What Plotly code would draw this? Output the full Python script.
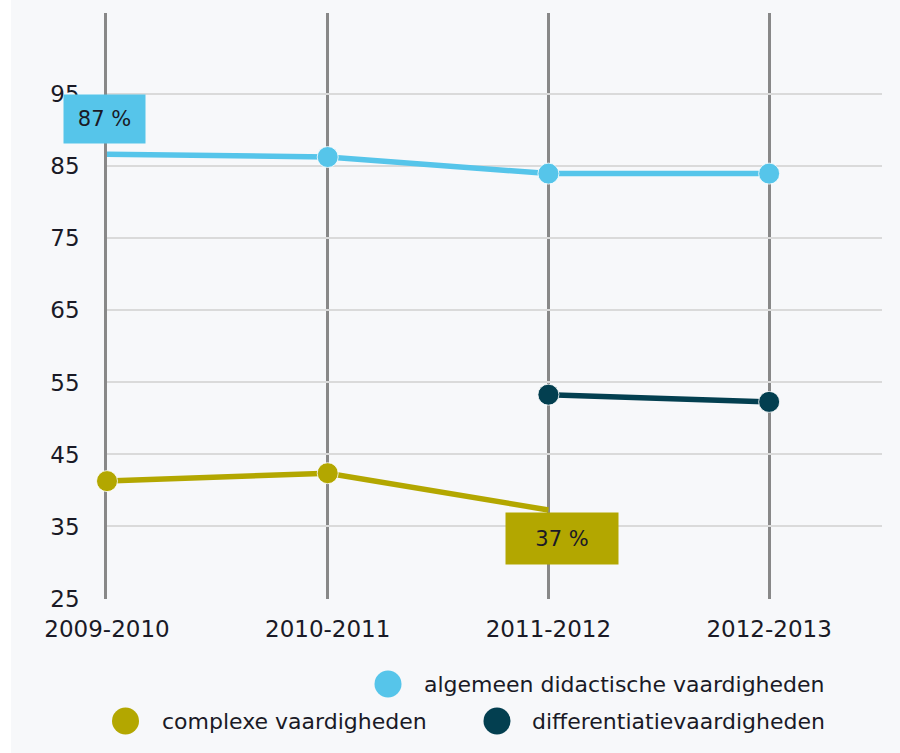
import plotly.graph_objects as go

W, H = 900, 753

years = ["2009-2010", "2010-2011", "2011-2012", "2012-2013"]
algemeen = [86.7, 86.3, 84.0, 84.0]
complexe = [41.3, 42.4, 37.3, None]
differentiatie = [None, None, 53.3, 52.3]

names = ["algemeen didactische vaardigheden", "complexe vaardigheden", "differentiatievaardigheden"]
colors = ["#56c5ea", "#b3a700", "#033f50"]
y_ticks = [25, 35, 45, 55, 65, 75, 85, 95]

label_alg = "87 %"
label_comp = "37 %"

FONT = "DejaVu Sans"
TXT = "#1a1a26"


def X(px):
    return px / W


def Y(py):
    return 1 - py / H


fig = go.Figure()

series = [algemeen, complexe, differentiatie]
sizes = [[0, 21, 21, 21], [21, 21, 0, 0], [0, 0, 21, 21]]
for vals, name, col, sz in zip(series, names, colors, sizes):
    fig.add_trace(go.Scatter(
        x=years, y=vals, name=name, mode="lines+markers",
        line=dict(color=col, width=5.5),
        marker=dict(size=sz, color=col, opacity=1,
                    line=dict(color="rgba(255,255,255,0.8)", width=1)),
        showlegend=False, connectgaps=False, cliponaxis=False,
    ))

annotations = [
    dict(x=years[0], y=algemeen[0], xref="x", yref="y", text=label_alg, showarrow=False,
         xshift=-2.5, yshift=35, width=81, height=48, borderpad=0, bgcolor=colors[0],
         font=dict(family=FONT, size=21, color=TXT)),
    dict(x=years[2], y=complexe[2], xref="x", yref="y", text=label_comp, showarrow=False,
         xshift=14, yshift=-28.5, width=112, height=51, borderpad=0, bgcolor=colors[1],
         font=dict(family=FONT, size=21, color=TXT)),
]

shapes = [
    dict(type="rect", xref="paper", yref="paper", x0=0, x1=X(11), y0=0, y1=1,
         fillcolor="#ffffff", line=dict(width=0), layer="below"),
]

# manual legend
leg = [
    (388, 684, 422, names[0], colors[0]),
    (125.5, 721, 160, names[1], colors[1]),
    (497, 721, 530, names[2], colors[2]),
]
r = 13.5
for cx, cy, tx, name, col in leg:
    shapes.append(dict(type="circle", xref="paper", yref="paper",
                       x0=X(cx - r), x1=X(cx + r), y0=Y(cy + r), y1=Y(cy - r),
                       fillcolor=col, line=dict(width=0)))
    annotations.append(dict(x=X(tx), y=Y(cy), xref="paper", yref="paper", text=name,
                            showarrow=False, xanchor="left", yanchor="middle",
                            font=dict(family=FONT, size=22, color=TXT)))

fig.update_layout(
    width=W, height=H,
    margin=dict(l=0, r=0, t=0, b=0),
    paper_bgcolor="#f7f8fa", plot_bgcolor="#f7f8fa",
    font=dict(family=FONT, size=22, color=TXT),
    annotations=annotations, shapes=shapes,
    xaxis=dict(
        type="category", range=[0, 3.51], domain=[X(107), X(881.7)],
        showgrid=True, gridcolor="#888888", gridwidth=2.5,
        zeroline=False, showline=False, ticks="",
        tickfont=dict(family=FONT, size=23, color=TXT),
        ticklabelstandoff=14,
        automargin=False,
    ),
    yaxis=dict(
        range=[25, 106.3], domain=[Y(598.5), Y(13)],
        tickvals=y_ticks, ticktext=[str(v) for v in y_ticks],
        showgrid=True, gridcolor="#dadada", gridwidth=2,
        zeroline=False, showline=True, linecolor="#888888", linewidth=2.5,
        ticks="", layer="below traces",
        tickfont=dict(family=FONT, size=23, color=TXT),
        ticklabelstandoff=20,
        automargin=False,
    ),
)

fig.write_html("out.html", config={"displayModeBar": False},
               post_script="document.body.style.margin='0';document.body.style.overflow='hidden';")
